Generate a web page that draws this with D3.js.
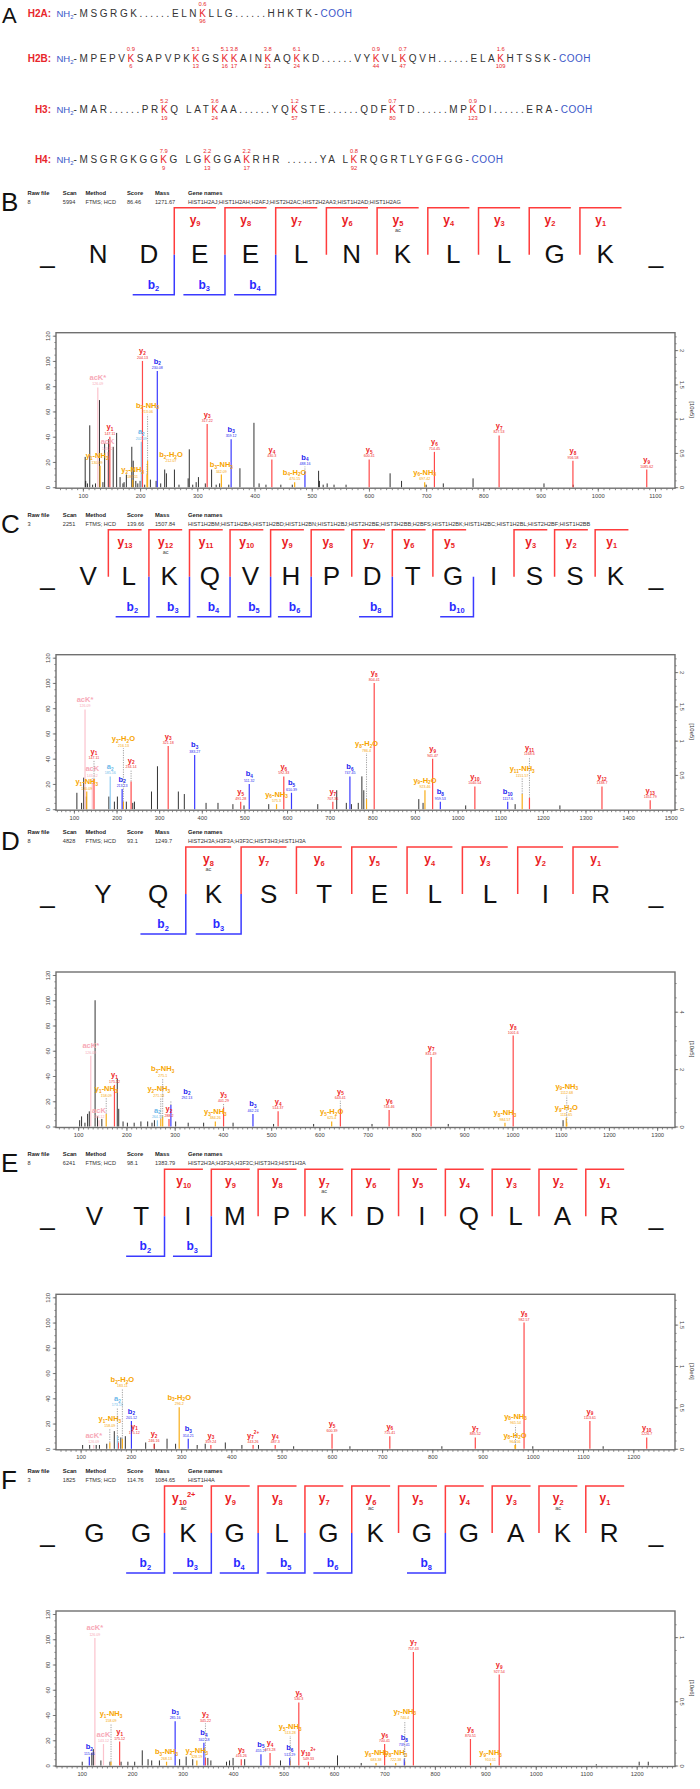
<!DOCTYPE html>
<html><head><meta charset="utf-8">
<script src="https://cdn.jsdelivr.net/npm/d3@7"></script>
<style>
body{margin:0;background:#fff}
svg{display:block}
text{font-family:"Liberation Sans",Arial,sans-serif}
</style></head>
<body><svg id="c" width="700" height="1789"></svg>
<script>
// ================= DATA =================
// Panel A: histone sequences (lowercase k = acetylated lysine)
const histoneNames = ["H2A:", "H2B:", "H3:", "H4:"];
const h2aSeq = "MSGRGK......ELNkLLG......HHKTK";
const h2aSites = [96];
const h2aRatios = ["0.6"];
const h2bSeq = "MPEPVkSAPVPKkGSkkAINkAQkKD......VYkVLkQVH......ELAkHTSSK";
const h2bSites = [6, 13, 16, 17, 21, 24, 44, 47, 109];
const h2bRatios = ["0.9", "5.1", "5.1", "3.8", "3.8", "6.1", "0.9", "0.7", "1.6"];
const h3Seq = "MAR......PRkQ LATkAA......YQkSTE......QDFkTD......MPkDI......ERA";
const h3Sites = [19, 24, 57, 80, 123];
const h3Ratios = ["5.2", "3.6", "1.2", "0.7", "0.9"];
const h4Seq = "MSGRGKGGkG LGkGGAkRHR ......YA LkRQGRTLYGFGG";
const h4Sites = [9, 13, 17, 92];
const h4Ratios = ["7.9", "2.2", "2.2", "0.8"];

// Panel headers
const headerCols = ["Raw file", "Scan", "Method", "Score", "Mass", "Gene names"];
const bHeader = ["8", "5994", "FTMS; HCD", "86.46", "1271.67", "HIST1H2AJ;HIST1H2AH;H2AFJ;HIST2H2AC;HIST2H2AA3;HIST1H2AD;HIST1H2AG"];
const cHeader = ["3", "2251", "FTMS; HCD", "139.66", "1507.84", "HIST1H2BM;HIST1H2BA;HIST1H2BD;HIST1H2BN;HIST1H2BJ;HIST2H2BE;HIST3H2BB;H2BFS;HIST1H2BK;HIST1H2BC;HIST1H2BL;HIST2H2BF;HIST1H2BB"];
const dHeader = ["8", "4828", "FTMS; HCD", "93.1", "1249.7", "HIST2H3A;H3F3A;H3F3C;HIST3H3;HIST1H3A"];
const eHeader = ["8", "6241", "FTMS; HCD", "98.1", "1383.79", "HIST2H3A;H3F3A;H3F3C;HIST3H3;HIST1H3A"];
const fHeader = ["3", "1825", "FTMS; HCD", "114.76", "1084.65", "HIST1H4A"];

// Peptide sequences and fragment coverage
const bSeq = "NDEELNKLLGK", bYIons = [9,8,7,6,5,4,3,2,1], bBIons = [2,3,4], bAc = [5];
const cSeq = "VLKQVHPDTGISSK", cYIons = [13,12,11,10,9,8,7,6,5,3,2,1], cBIons = [2,3,4,5,6,8,10], cAc = [12];
const dSeq = "YQKSTELLIR", dYIons = [8,7,6,5,4,3,2,1], dBIons = [2,3], dAc = [8];
const eSeq = "VTIMPKDIQLAR", eYIons = [10,9,8,7,6,5,4,3,2,1], eBIons = [2,3], eAc = [7];
const fSeq = "GGKGLGKGGAKR", fYIons = [10,9,8,7,6,5,4,3,2,1], fBIons = [2,3,4,5,6,8], fAc = [10,6,2];
const fYCharges = [[10, "2+"]];

// Spectra: annotated peaks [ion, m/z, relative intensity %]
const bPeaks = [["acK*",126.09,79],["acK",143.12,28],["y_1-NH_3",130.09,17],["y_1",147.11,40],["y_2-NH_3",187.11,6],
 ["a_2",202.09,36],["y_2",204.13,100],["b_2-H_2O",212.07,10],["b_2-NH_3",213.06,21],["b_2",230.08,92],["y_3",317.22,50],
 ["b_3-NH_3",342.09,10],["b_3",359.12,38],["y_4",430.3,22],["b_4-H_2O",470.15,4],["b_4",488.16,12],["y_5",600.41,22],
 ["y_6-NH_3",697.42,4],["y_6",714.45,28],["y_7",827.53,41],["y_8",956.58,21],["y_9",1085.62,14]];
const bNoise = [[104,24],[105,5],[108,3],[112,49],[117,2],[122,3],[129,69],[135,4],[138,35],[145,38],[153,32],[159,43],[165,8],
 [170,3],[172,4],[176,10],[185.5,32],[188,21],[192.5,5],[196,3],[200,5],[208,2],[218,6],[228,5],[236,3],[243,14],[246,11],
 [260,14],[268,2],[284,7],[286,30],[292,2],[298,4],[302,8],[314,3],[325,14],[333,2],[339,3],[355,2],[374.5,15],[399,51],
 [408,3],[420,2],[446,2],[466,2],[512,13],[513.5,5],[520,2],[527,3],[539,2],[560,2],[637,11],[657,5],[700,2],[730,3],[782,7],[906,3],[957,2]];
const cPeaks = [["acK*",126.09,79],["acK",143.12,20],["y_1-NH_3",130.09,14],["y_1",147.11,24],["a_2",185.16,26],["b_2",213.13,16],
 ["y_2-H_2O",216.13,6],["y_2",234.14,22],["y_3",321.18,50],["b_3",383.27,43],["y_5",491.28,6],["b_4",511.32,20],["y_6-NH_3",575.3,4],
 ["y_6",592.33,26],["b_5",610.39,13],["y_7",707.36,6],["b_6",747.45,26],["y_8-H_2O",786.4,8],["y_8",804.41,100],["y_9-H_2O",923.46,15],
 ["y_9",941.47,40],["b_8",959.53,6],["y_10",1040.54,18],["b_10",1117.6,6],["y_11-NH_3",1151.57,12],["y_11",1168.6,9],["y_12",1338.7,18],["y_13",1451.79,7]];
const cNoise = [[107,13],[118,5],[123,25],[129,10],[182,10],[195,6],[202,10],[223,6],[238,5],[242,6],[282,14],[296,34],[345,14],[359,12],
 [410,5],[438,5],[473,4],[499,3],[557,4],[672,4],[716.5,15],[739,5],[751,4],[767,5],[775.5,26],[780,15],[909,8],[919,5],[1019,3],[1135,4],[1240,3]];
const dPeaks = [["acK*",126.09,56],["acK",143.12,5],["y_1-NH_3",158.09,10],["y_1",175.12,33],["a_2",264.13,5],["y_2-NH_3",271.18,6],
 ["b_2-NH_3",275.1,8],["y_2",288.2,6],["b_2",292.13,17],["y_3-NH_3",384.26,4],["y_3",401.29,15],["b_3",462.24,10],["y_4",514.37,12],
 ["y_5-H_2O",625.4,4],["y_5",643.41,14],["y_6",744.46,13],["y_7",831.49,55],["y_8-NH_3",984.57,3],["y_8",1001.6,72],
 ["y_9-H_2O",1111.65,7],["y_9-NH_3",1112.68,3]];
const dNoise = [[103,5],[107,8],[114,3],[119.5,10],[123,12],[135,100],[140,8],[149,6],[181,38],[184,14],[193,4],[202,3],[216,3],
 [230,4],[244,4],[253,3],[258,5],[302,4],[328,3],[360,3],[421,3],[505,2],[588,2],[709,2],[867,2],[1105,5]];
const ePeaks = [["acK*",126.09,3],["y_1-NH_3",158.09,5],["a_2",173.13,10],["y_1",175.12,5],["b_2-H_2O",183.11,8],["b_2",201.12,22],
 ["y_2",246.16,4],["b_3-H_2O",296.2,33],["b_3",314.21,8],["y_3",359.24,3],["y_7^2+",443.26,3],["y_4",487.3,3],["y_5",600.39,12],
 ["y_6",715.41,10],["y_7",885.52,9],["y_8-H_2O",964.56,3],["y_8-NH_3",965.54,3],["y_8",982.57,100],["y_9",1113.61,22],["y_10",1226.7,9]];
const eNoise = [[104,3],[118,3],[131,3],[137.5,3],[152,4],[167,14],[180,9],[189,10],[229.5,5],[247,4],[272,8],[289,4],[332,3],
 [348,4],[388,5],[421,3],[454,3],[524,2],[636,2],[819,2],[1000,2],[1140,2]];
const fPeaks = [["b_2",115.05,7],["acK*",126.09,101],["acK",143.12,17],["y_1-NH_3",158.09,3],["y_1",175.12,19],["b_3-NH_3",268.13,3],
 ["b_3",285.16,35],["y_2-NH_3",328.19,4],["b_4",342.18,18],["y_2",345.22,6],["y_3",416.26,5],["b_5",455.27,9],["y_4",473.28,10],
 ["b_6",512.29,6],["y_5-NH_3",513.28,4],["y_5",530.3,50],["y_10^2+",549.33,3],["y_6-NH_3",683.38,2],["y_6",700.41,17],
 ["b_8-NH_3",722.38,2],["b_8",739.41,5],["y_7-NH_3",740.4,3],["y_7",757.43,90],["y_8",870.51,21],["y_9-NH_3",910.51,2],["y_9",927.54,72]];
const fNoise = [[101,3],[120,10],[123,13],[138,4],[156,3],[178,3],[191.5,3],[205,3],[220,12],[231.5,5],[238.7,4],[254,4],[294,5],
 [307,7],[320,5],[350,6],[356,4],[387,3],[393,4],[400,6],[423,5],[494,4],[607,8],[654,2],[1120,1],[1205,3],[1223,3]];

// Right-axis tick labels
const bRightTicks = [0, 0.5, 1, 1.5, 2], cRightTicks = [0, 0.5, 1, 1.5, 2], dRightTicks = [0, 2, 4],
      eRightTicks = [0, 0.5, 1, 1.5], fRightTicks = [0, 0.5, 1];
const rightUnits = ["[10e5]", "[10e5]", "[10e5]", "[10e6]", "[10e6]"];

// ================= LAYOUT (label placement: [ion, label height, dx]) =================
const bLabelPos = [["b_2-NH_3",57,0],["b_2-H_2O",18,24],["b_4",16,0],["y_1-NH_3",17,-3]];
const cLabelPos = [["y_1",38,0],["acK",24,0],["y_2-H_2O",48,0],["y_2",31,0],["y_8-H_2O",44,0],["y_11-NH_3",24,0],["y_11",41,0]];
const dLabelPos = [["y_1-NH_3",22,0],["y_2-NH_3",22,-2],["b_2-NH_3",38,0],["b_2",20,16],["y_5",20,0],["y_9-NH_3",24,0],["y_3",18,0]];
const eLabelPos = [["y_1-NH_3",16,0],["a_2",32,0],["y_1",10,16],["b_2-H_2O",47,0],["y_8-NH_3",18,0]];
const fLabelPos = [["y_1-NH_3",33,0],["y_2",33,0],["y_5-NH_3",23,0],["b_8",14,0],["y_7-NH_3",35,0]];

// ================= DRAW =================
const svg = d3.select("#c");
svg.append("rect").attr("width",700).attr("height",1789).attr("fill","#fff");
const RED = "#e8262b", BLUE = "#3b57c9";
const COL = {y:"#ee1d25", b:"#2323f0", loss:"#f7a400", a:"#6db9ea", ack:"#f7a9b7"};
const LINE = {y:"#ff4a4a", b:"#3a3aff", loss:"#f8ae1a", a:"#8fcdf2", ack:"#fbc3cd"};

function ionType(l){
  if (l.startsWith("acK")) return "ack";
  if (/NH|H_2O/.test(l)) return "loss";
  if (l[0] === "a") return "a";
  if (l[0] === "b") return "b";
  return "y";
}
function rich(sel, label, fs){
  const re = /_(\d+)|\^([^_]+)|([^_^]+)/g; let m, shift = 0;
  while ((m = re.exec(label))){
    if (m[1] !== undefined){ const s = fs*0.22; sel.append("tspan").attr("font-size",fs*0.62).attr("dy",s-shift).text(m[1]); shift = s; }
    else if (m[2] !== undefined){ const s = -fs*0.42; sel.append("tspan").attr("font-size",fs*0.62).attr("dy",s-shift).text(m[2]); shift = s; }
    else { sel.append("tspan").attr("font-size",fs).attr("dy",-shift).text(m[3]); shift = 0; }
  }
}
const fmtMz = v => String(+v.toFixed(2));

// ---------- Panel A ----------
svg.append("text").attr("x",2).attr("y",23).attr("font-size",22).attr("fill","#111").text("A");
const rowsA = [[h2aSeq,h2aSites,h2aRatios],[h2bSeq,h2bSites,h2bRatios],[h3Seq,h3Sites,h3Ratios],[h4Seq,h4Sites,h4Ratios]];
const rowBase = [16.7, 61.7, 113.3, 163.3];
const LS = 2.6;
rowsA.forEach((r, i) => {
  const yb = rowBase[i], [seq, sites, ratios] = r;
  svg.append("text").attr("x",51).attr("y",yb).attr("text-anchor","end").attr("font-size",10)
     .attr("font-weight","bold").attr("fill",RED).text(histoneNames[i]);
  const nh = svg.append("text").attr("x",56.5).attr("y",yb).attr("font-size",9.5).attr("fill",BLUE);
  rich(nh, "NH_2", 9.5);
  const t = svg.append("text").attr("x",73.5).attr("y",yb).attr("font-size",10).attr("fill","#333")
     .style("letter-spacing",LS+"px").style("white-space","pre");
  const chars = ("-" + seq + "-").split("");
  const marks = [];
  chars.forEach((ch, j) => {
    const mod = ch === "k";
    if (mod) marks.push(j);
    t.append("tspan").attr("fill", mod ? RED : "#333").text(mod ? "K" : ch);
  });
  t.append("tspan").attr("fill",BLUE).style("letter-spacing","0.5px").text("COOH");
  const node = t.node();
  marks.forEach((j, k) => {
    const s = node.getStartPositionOfChar(j).x, e = node.getEndPositionOfChar(j).x;
    const cx = (s + e - LS) / 2;
    svg.append("text").attr("x",cx).attr("y",yb-10.5).attr("text-anchor","middle").attr("font-size",5.8).attr("fill",RED).text(ratios[k]);
    svg.append("text").attr("x",cx).attr("y",yb+6.3).attr("text-anchor","middle").attr("font-size",5.8).attr("fill",RED).text(sites[k]);
  });
});

// ---------- Sequence + spectrum panels ----------
const headX = [27.5, 62.8, 85.5, 127, 155, 188];
function seqPanel(V, letter, header, seq, yIons, bIons, acY, charges){
  const g = svg.append("g");
  g.append("text").attr("x",1).attr("y",V+9).attr("font-size",26).attr("fill","#111").text(letter);
  headerCols.forEach((h, i) => {
    g.append("text").attr("x",headX[i]).attr("y",V-7).attr("font-size",5.8).attr("font-weight","bold").attr("fill","#222").text(h);
    g.append("text").attr("x",headX[i]).attr("y",V+2).attr("font-size",5.6).attr("fill","#333").text(header[i]);
  });
  const n = seq.length;
  const xs = d3.scalePoint().domain(d3.range(n + 2)).range([47.5, 656]);
  const p = xs.step();
  const items = ["_"].concat(seq.split("")).concat(["_"]);
  g.selectAll(".res").data(items).join("text").attr("x",(d,i)=>xs(i)).attr("y",V+61.5)
    .attr("text-anchor","middle").attr("font-size",26).attr("fill","#111").text(d=>d);
  const cut = k => (xs(k) + xs(k+1)) / 2;
  const chargeMap = new Map(charges || []);
  yIons.forEach(k => {
    const cx = cut(n - k);
    g.append("path").attr("d",`M${cx},${V+53}V${V+6}H${cx+0.82*p}`).attr("fill","none").attr("stroke","#ff3c3c").attr("stroke-width",1.5);
    const t = g.append("text").attr("x",cx+0.41*p).attr("y",V+22).attr("text-anchor","middle")
      .attr("font-size",12).attr("font-weight","bold").attr("fill","#ea1c24");
    rich(t, "y_" + k + (chargeMap.has(k) ? "^" + chargeMap.get(k) : ""), 12);
    if (acY.includes(k)) g.append("text").attr("x",cx+0.41*p).attr("y",V+30).attr("text-anchor","middle")
      .attr("font-size",5.5).attr("fill","#444").text("ac");
  });
  bIons.forEach(k => {
    const cx = cut(k);
    g.append("path").attr("d",`M${cx},${V+53}V${V+93}H${cx-0.82*p}`).attr("fill","none").attr("stroke","#3a3aff").attr("stroke-width",1.5);
    const t = g.append("text").attr("x",cx-0.41*p).attr("y",V+87).attr("text-anchor","middle")
      .attr("font-size",12).attr("font-weight","bold").attr("fill","#2a2aff");
    rich(t, "b_" + k, 12);
  });
}

function spectrum(V, dom, rMax, rTicks, rStep, unit, peaks, noise, labelPos){
  const g = svg.append("g");
  const X0 = 56, X1 = 675;
  const x = d3.scaleLinear().domain(dom).range([X0, X1]);
  const y = d3.scaleLinear().domain([0,120]).range([V+285.5, V+134]);
  const yr = d3.scaleLinear().domain([0,rMax]).range([V+285.5, V+134]);
  const base = V + 286.5;
  const gx1 = g.append("g").attr("transform",`translate(0,${base})`)
    .call(d3.axisBottom(x).tickValues(d3.range(Math.ceil(dom[0]/10)*10, dom[1], 10)).tickSize(2).tickFormat(""));
  const gx2 = g.append("g").attr("transform",`translate(0,${base})`)
    .call(d3.axisBottom(x).tickValues(d3.range(100, dom[1]+1, 100)).tickSize(3.5).tickPadding(2).tickFormat(d3.format("d")));
  const gl1 = g.append("g").attr("transform",`translate(${X0},0)`)
    .call(d3.axisLeft(y).tickValues(d3.range(0,121,5)).tickSize(1.6).tickFormat(""));
  const gl2 = g.append("g").attr("transform",`translate(${X0},0)`)
    .call(d3.axisLeft(y).tickValues(d3.range(0,121,20)).tickSize(3.2).tickFormat(d3.format("d")));
  gl2.selectAll(".tick text").attr("transform","rotate(-90)").attr("x",0).attr("y",-6.5).attr("dy",0).attr("text-anchor","middle");
  const gr1 = g.append("g").attr("transform",`translate(${X1},0)`)
    .call(d3.axisRight(yr).tickValues(d3.range(0, rMax, rStep)).tickSize(1.6).tickFormat(""));
  const gr2 = g.append("g").attr("transform",`translate(${X1},0)`)
    .call(d3.axisRight(yr).tickValues(rTicks).tickSize(3.2).tickFormat(d => String(d)));
  gr2.selectAll(".tick text").attr("transform","rotate(90)").attr("x",0).attr("y",-5).attr("dy",0).attr("text-anchor","middle");
  [gx1,gx2,gl1,gl2,gr1,gr2].forEach(a => {
    a.select(".domain").remove();
    a.selectAll(".tick line").attr("stroke","#555").attr("stroke-width",0.7);
    a.selectAll(".tick text").attr("font-size",5.8).attr("fill","#444").attr("font-family",'"Liberation Sans",Arial,sans-serif');
  });
  g.append("text").attr("transform",`translate(690,${V+208}) rotate(90)`).attr("text-anchor","middle")
    .attr("font-size",6).attr("fill","#333").text(unit);
  g.append("rect").attr("x",X0).attr("y",V+131).attr("width",X1-X0).attr("height",base-(V+131))
    .attr("fill","none").attr("stroke","#707070").attr("stroke-width",1.4);
  g.selectAll(".np").data(noise).join("line")
    .attr("x1",d=>x(d[0])).attr("x2",d=>x(d[0])).attr("y1",y(0)).attr("y2",d=>y(d[1]))
    .attr("stroke","#1c1c1c").attr("stroke-width",0.9);
  const lp = new Map(labelPos.map(d => [d[0], d]));
  const order = peaks.slice().sort((a,b) => a[2] - b[2]);
  g.selectAll(".ap").data(order).join("line")
    .attr("x1",d=>x(d[1])).attr("x2",d=>x(d[1])).attr("y1",y(0)).attr("y2",d=>y(d[2]))
    .attr("stroke",d=>LINE[ionType(d[0])]).attr("stroke-width",1.2);
  peaks.forEach(d => {
    const [ion, mz, h] = d, tp = ionType(ion);
    const pos = lp.get(ion);
    const lh = pos ? pos[1] : h, dx = pos ? pos[2] : 0;
    const px = x(mz), top = y(lh);
    if (pos && lh > h + 2) {
      g.append("line").attr("x1",px).attr("x2",px).attr("y1",y(h)).attr("y2",top-0.5)
        .attr("stroke","#888").attr("stroke-width",0.8).attr("stroke-dasharray","1.2,1.2");
    }
    const t = g.append("text").attr("x",px+dx).attr("y",top-7.5).attr("text-anchor","middle")
      .attr("font-size",7.5).attr("font-weight","bold").attr("fill",COL[tp]);
    rich(t, ion, 7.5);
    g.append("text").attr("x",px+dx).attr("y",top-2).attr("text-anchor","middle")
      .attr("font-size",3.6).attr("fill",COL[tp]).text(fmtMz(mz));
  });
}

const panels = [
  [201.7, "B", bHeader, bSeq, bYIons, bBIons, bAc, null, [53,1135], 2.21, bRightTicks, 0.1, bPeaks, bNoise, bLabelPos],
  [523.7, "C", cHeader, cSeq, cYIons, cBIons, cAc, null, [58,1510], 2.21, cRightTicks, 0.1, cPeaks, cNoise, cLabelPos],
  [841,   "D", dHeader, dSeq, dYIons, dBIons, dAc, null, [54,1337], 5.28, dRightTicks, 0.5, dPeaks, dNoise, dLabelPos],
  [1163.3,"E", eHeader, eSeq, eYIons, eBIons, eAc, null, [51,1283], 1.83, eRightTicks, 0.1, ePeaks, eNoise, eLabelPos],
  [1480,  "F", fHeader, fSeq, fYIons, fBIons, fAc, fYCharges, [49,1276], 1.18, fRightTicks, 0.1, fPeaks, fNoise, fLabelPos]
];
panels.forEach((P, i) => {
  seqPanel(P[0], P[1], P[2], P[3], P[4], P[5], P[6], P[7]);
  spectrum(P[0], P[8], P[9], P[10], P[11], rightUnits[i], P[12], P[13], P[14]);
});
</script></body></html>
